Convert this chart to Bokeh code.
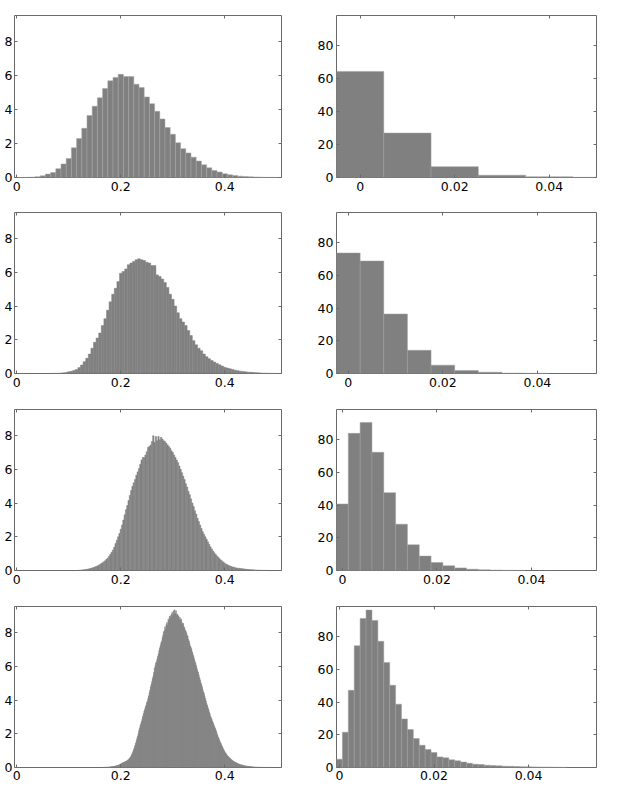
from bokeh.plotting import figure
from bokeh.layouts import gridplot
from bokeh.models import Range1d, LinearAxis, FixedTicker, ColumnDataSource
from bokeh.embed import file_html
from bokeh.resources import INLINE

# ---------------- data (density histograms) ----------------
# left column: bin width halves each row; values start at the given bin centre
left1_start, left1_width = 0.0, 0.01
left1_vals = [0, 0, 0.01, 0.02, 0.05, 0.1, 0.2, 0.3, 0.52, 0.8,
              1.12, 1.75, 2.3, 2.9, 3.65, 4.2, 4.7, 5.25, 5.7, 5.9,
              6.08, 5.95, 5.95, 5.5, 5.3, 4.75, 4.35, 3.9, 3.45, 2.95,
              2.55, 2.05, 1.7, 1.45, 1.2, 0.97, 0.75, 0.57, 0.41, 0.32,
              0.22, 0.16, 0.12, 0.08, 0.06, 0.04, 0.03, 0.02, 0.01, 0.01, 0.005]

left2_start, left2_width = 0.07, 0.005
left2_vals = [0.005, 0.01, 0.015, 0.025,
              0.04, 0.06, 0.1, 0.13, 0.18, 0.24, 0.35, 0.5, 0.7, 0.9, 1.15, 1.5,
              1.85, 2.1, 2.4, 2.85, 3.25, 3.75, 4.25, 4.7, 5.05, 5.45,
              5.95, 6.05, 6.2, 6.45, 6.55, 6.65, 6.75, 6.8, 6.75, 6.7,
              6.6, 6.55, 6.4, 6.4, 5.85, 5.75, 5.6, 5.4, 5.1, 4.7,
              4.4, 4.0, 3.6, 3.25, 3.05, 2.85, 2.55, 2.25, 1.95, 1.7,
              1.5, 1.35, 1.15, 1.0, 0.88, 0.77, 0.68, 0.6, 0.52, 0.44,
              0.37, 0.32, 0.28, 0.23, 0.2, 0.17, 0.14, 0.12, 0.1, 0.08,
              0.07, 0.06, 0.05, 0.04, 0.03, 0.02, 0.02, 0.01, 0.01, 0.005, 0.005]

left3_start, left3_width = 0.12, 0.0025
left3_vals = [0.02, 0.03, 0.03, 0.04, 0.05, 0.06, 0.07, 0.09,
              0.11, 0.13, 0.15, 0.18, 0.21, 0.24, 0.27, 0.31,
              0.36, 0.41, 0.46, 0.52, 0.58, 0.66, 0.74, 0.85,
              0.97, 1.08, 1.22, 1.38, 1.6, 1.8, 2.0, 2.2,
              2.45, 2.7, 3.0, 3.3, 3.6, 3.85, 4.15, 4.45,
              4.75, 5.0, 5.2, 5.4, 5.65, 5.85, 6.05, 6.3,
              6.55, 6.7, 6.7, 6.85, 7.05, 7.3, 7.35, 7.45,
              7.65, 8.0, 7.6, 7.95, 7.7, 7.95, 7.75, 7.9,
              7.8, 7.7, 7.65, 7.55, 7.45, 7.35, 7.25, 7.1,
              7.0, 6.85, 6.7, 6.55, 6.4, 6.2, 6.0, 5.8,
              5.6, 5.4, 5.15, 4.95, 4.7, 4.5, 4.25, 4.0,
              3.8, 3.55, 3.35, 3.1, 2.9, 2.7, 2.5, 2.3,
              2.15, 2.0, 1.85, 1.7, 1.55, 1.4, 1.28, 1.15,
              1.05, 0.95, 0.86, 0.78, 0.7, 0.62, 0.55, 0.49,
              0.43, 0.38, 0.34, 0.3, 0.27, 0.24, 0.21, 0.19,
              0.17, 0.15, 0.14, 0.13, 0.12, 0.11, 0.1, 0.09,
              0.08, 0.07, 0.06, 0.055, 0.05, 0.045, 0.04, 0.035,
              0.03, 0.025, 0.02, 0.02, 0.015, 0.015, 0.01, 0.01,
              0.01]

left4_start, left4_width = 0.165, 0.00125
left4_vals = [0.01, 0.01, 0.01, 0.015, 0.015, 0.02, 0.02, 0.02,
              0.025, 0.03, 0.03, 0.035, 0.04, 0.045, 0.05, 0.055,
              0.06, 0.07, 0.075, 0.085, 0.09, 0.1, 0.11, 0.12,
              0.14, 0.15, 0.17, 0.19, 0.21, 0.23, 0.26, 0.28,
              0.29, 0.31, 0.33, 0.35, 0.37, 0.39, 0.42, 0.45,
              0.48, 0.52, 0.57, 0.63, 0.7, 0.78, 0.87, 0.97,
              1.08, 1.2, 1.32, 1.45, 1.58, 1.72, 1.87, 2.02,
              2.2, 2.35, 2.5, 2.6, 2.75, 2.9, 3.05, 3.2,
              3.35, 3.45, 3.6, 3.7, 3.85, 3.95, 4.1, 4.25,
              4.45, 4.6, 4.8, 4.95, 5.1, 5.3, 5.45, 5.65,
              5.9, 6.05, 6.2, 6.3, 6.45, 6.6, 6.75, 6.95,
              7.1, 7.25, 7.4, 7.5, 7.7, 7.85, 8.05, 8.1,
              8.35, 8.2, 8.5, 8.6, 8.45, 8.8, 8.7, 8.95,
              9.0, 8.85, 9.1, 9.2, 9.0, 9.3, 9.1, 9.35,
              9.15, 9.3, 9.05, 9.1, 8.95, 9.0, 8.8, 8.9,
              8.75, 8.8, 8.6, 8.5, 8.55, 8.35, 8.3, 8.15,
              8.1, 8.0, 7.85, 7.8, 7.6, 7.5, 7.35, 7.2,
              7.1, 7.0, 6.85, 6.7, 6.6, 6.45, 6.3, 6.2,
              6.05, 5.9, 5.75, 5.65, 5.5, 5.35, 5.2, 5.05,
              4.95, 4.8, 4.65, 4.5, 4.4, 4.25, 4.1, 3.95,
              3.8, 3.7, 3.55, 3.45, 3.3, 3.2, 3.05, 2.95,
              2.85, 2.75, 2.65, 2.55, 2.45, 2.35, 2.25, 2.15,
              2.0, 1.9, 1.8, 1.7, 1.6, 1.5, 1.42, 1.33,
              1.25, 1.17, 1.08, 1.0, 0.94, 0.87, 0.81, 0.76,
              0.7, 0.66, 0.62, 0.58, 0.54, 0.5, 0.47, 0.44,
              0.41, 0.38, 0.35, 0.33, 0.31, 0.29, 0.27, 0.25,
              0.23, 0.21, 0.2, 0.19, 0.17, 0.16, 0.15, 0.14,
              0.13, 0.12, 0.11, 0.1, 0.095, 0.09, 0.08, 0.075,
              0.07, 0.065, 0.06, 0.055, 0.05, 0.045, 0.04, 0.04,
              0.035, 0.035, 0.03, 0.03, 0.025, 0.025, 0.02, 0.02,
              0.02, 0.015, 0.015, 0.015, 0.01, 0.01, 0.01, 0.01,
              0.01, 0.01, 0.005, 0.005, 0.005, 0.005, 0.005, 0.005]

# right column
right1_start, right1_width = 0.0, 0.01
right1_vals = [64.5, 27.0, 6.6, 1.4, 0.4, 0.1]

right2_start, right2_width = 0.0, 0.005
right2_vals = [73.7, 68.8, 36.4, 14.2, 5.1, 1.8, 0.8, 0.2, 0.1]

right3_start, right3_width = 0.0, 0.0025
right3_vals = [40.7, 83.9, 90.6, 72.3, 47.6, 28.3, 15.7, 8.8, 4.9, 2.9,
               1.6, 0.8, 0.4, 0.2, 0.1, 0.05]

right4_start, right4_width = 0.0, 0.00125
right4_vals = [5.1, 21.6, 47.2, 74.5, 91.2, 96.3, 90.0, 77.2, 64.3, 50.3,
               38.7, 29.7, 23.2, 17.7, 13.6, 11.0, 9.2, 6.5, 5.9, 4.7,
               4.1, 3.3, 2.6, 2.0, 1.8, 1.4, 1.2, 1.0, 0.8, 0.7,
               0.6, 0.5, 0.4, 0.35, 0.3, 0.25, 0.2, 0.15, 0.1]

left_xticks = [0, 0.2, 0.4]
left_xlabels = {0: "0", 0.2: "0.2", 0.4: "0.4"}
left_yticks = [0, 2, 4, 6, 8]
right_xticks = [0, 0.02, 0.04]
right_xlabels = {0: "0", 0.02: "0.02", 0.04: "0.04"}
right_yticks = [0, 20, 40, 60, 80]

left_xrange = (-0.0044, 0.509)
left_yrange = (0, 9.55)
right_yrange = (0, 98.5)
right_span = 0.055

# ---------------- styling ----------------
BAR = "#808080"
FRAME = "#6a6a6a"
FONT = "DejaVu Sans"
FSIZE = "12.5px"

# per-row layout: (top border, frame height, bottom border) in px
ROW_LAYOUT = [(15, 162, 28), (7, 161, 29), (7, 161, 29), (7, 161, 19)]


def style_axis(ax, ticks, overrides=None, show_labels=True, standoff=4):
    ax.ticker = FixedTicker(ticks=ticks)
    ax.major_tick_in = 3
    ax.major_tick_out = 0
    ax.minor_tick_in = 0
    ax.minor_tick_out = 0
    ax.minor_tick_line_color = None
    ax.major_tick_line_color = FRAME
    ax.axis_line_color = None
    ax.major_label_standoff = standoff
    ax.major_label_text_font = FONT
    if overrides:
        ax.major_label_overrides = overrides
    if show_labels:
        ax.major_label_text_font_size = FSIZE
        ax.major_label_text_color = "black"
    else:
        ax.major_label_text_font_size = "1px"
        ax.major_label_text_color = None
        ax.major_label_standoff = 0


def panel(start, width, vals, xr, yr, xticks, xlabels, yticks, is_left, row, edge):
    n = len(vals)
    centers = [start + i * width for i in range(n)]
    src = ColumnDataSource(dict(
        left=[c - width / 2 for c in centers],
        right=[c + width / 2 for c in centers],
        top=vals,
        bottom=[0] * n,
    ))
    top_b, fh, bot_b = ROW_LAYOUT[row]
    p = figure(
        frame_width=267 if is_left else 260,
        frame_height=fh,
        min_border_left=14 if is_left else 45,
        min_border_right=10 if is_left else 8,
        min_border_top=top_b,
        min_border_bottom=bot_b,
        x_range=Range1d(*xr), y_range=Range1d(*yr),
        output_backend="svg", toolbar_location=None,
    )
    p.quad(left="left", right="right", top="top", bottom="bottom", source=src,
           fill_color=BAR, line_color=edge, line_width=0.5)
    p.grid.visible = False
    p.outline_line_color = FRAME
    p.outline_line_width = 1
    p.background_fill_color = "white"
    p.border_fill_color = "white"
    style_axis(p.xaxis[0], xticks, xlabels, True, 3 if row == 3 else 4)
    style_axis(p.yaxis[0], yticks, None, True, 2 if is_left else 3)
    top = LinearAxis()
    style_axis(top, xticks, None, False)
    p.add_layout(top, "above")
    rgt = LinearAxis()
    style_axis(rgt, yticks, None, False)
    p.add_layout(rgt, "right")
    return p


lefts = [(left1_start, left1_width, left1_vals),
         (left2_start, left2_width, left2_vals),
         (left3_start, left3_width, left3_vals),
         (left4_start, left4_width, left4_vals)]
rights = [(right1_start, right1_width, right1_vals),
          (right2_start, right2_width, right2_vals),
          (right3_start, right3_width, right3_vals),
          (right4_start, right4_width, right4_vals)]

rows = []
for i in range(4):
    ls, lw, lv = lefts[i]
    rs, rw, rv = rights[i]
    pl = panel(ls, lw, lv, left_xrange, left_yrange, left_xticks, left_xlabels,
               left_yticks, True, i, "#a4a4a4" if i == 0 else BAR)
    rxr = (-rw / 2, -rw / 2 + right_span)
    pr = panel(rs, rw, rv, rxr, right_yrange, right_xticks, right_xlabels,
               right_yticks, False, i, "#9c9c9c")
    rows.append([pl, pr])

grid = gridplot(rows, toolbar_location=None)

open("out.html", "w").write(file_html(grid, INLINE))
